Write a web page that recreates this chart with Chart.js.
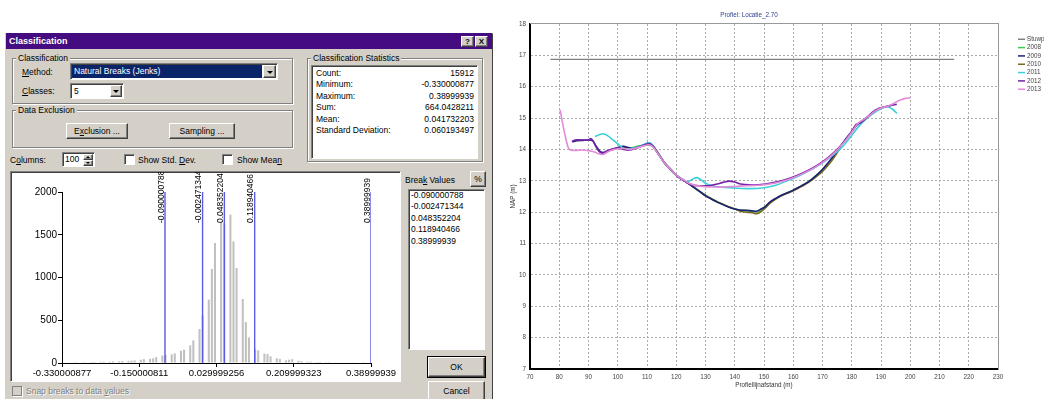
<!DOCTYPE html>
<html>
<head>
<meta charset="utf-8">
<title>Classification / Profiel</title>
<script src="https://cdn.jsdelivr.net/npm/chart.js@4.4.1/dist/chart.umd.min.js"></script>
<style>
  body { margin:0; width:1044px; height:399px; overflow:hidden; background:#fff; position:relative;
         font-family:"Liberation Sans", Arial, sans-serif; font-size:8.5px; color:#000; }
  .a { position:absolute; white-space:nowrap; box-sizing:border-box; }
  .grp { border:1px solid #808080; box-shadow: inset 1px 1px 0 #fff, 1px 1px 0 #fff; }
  .lab { background:#d4d0c8; padding:0 2px; line-height:10px; height:10px; }
  .btn { background:#d4d0c8; border:1px solid; border-color:#fff #404040 #404040 #fff;
         box-shadow: inset -1px -1px 0 #808080; text-align:center; }
  .sunk { background:#fff; border:1px solid; border-color:#808080 #fff #fff #808080;
          box-shadow: inset 1px 1px 0 #404040; }
  .tri { position:absolute; left:50%; top:50%; margin:-1px 0 0 -3px; width:0; height:0;
         border-left:3px solid transparent; border-right:3px solid transparent; border-top:3px solid #000; }
  .triup { position:absolute; left:50%; top:50%; margin:-1px 0 0 -2px; width:0; height:0;
         border-left:2px solid transparent; border-right:2px solid transparent; border-bottom:2px solid #000; }
  .tridn { position:absolute; left:50%; top:50%; margin:-1px 0 0 -2px; width:0; height:0;
         border-left:2px solid transparent; border-right:2px solid transparent; border-top:2px solid #000; }
</style>
</head>
<body>
<!-- dialog frame -->
<div class="a" style="left:5px;top:33px;width:488px;height:370px;background:#d4d0c8;border:1px solid;border-color:#d4d0c8 #404040 #404040 #d4d0c8;"></div>
<div class="a" style="left:6px;top:33px;width:486px;height:16px;background:#440c80;"></div>
<div class="a" style="left:9px;top:33px;height:16px;line-height:16px;color:#fff;font-weight:bold;font-size:9px;">Classification</div>
<div class="a btn" style="left:461px;top:36px;width:13px;height:11px;line-height:9px;font-weight:bold;font-size:8px;">?</div>
<div class="a btn" style="left:475px;top:36px;width:13px;height:11px;line-height:9px;font-weight:bold;font-size:8px;">X</div>

<!-- classification group -->
<div class="a grp" style="left:12px;top:58px;width:281px;height:46px;"></div>
<div class="a lab" style="left:16px;top:53px;">Classification</div>
<div class="a" style="left:22px;top:67px;line-height:10px;"><u>M</u>ethod:</div>
<div class="a sunk" style="left:70px;top:63px;width:208px;height:17px;"></div>
<div class="a" style="left:72px;top:65px;width:190px;height:13px;background:#0a246a;color:#fff;line-height:13px;padding-left:2px;">Natural Breaks (Jenks)</div>
<div class="a btn" style="left:263px;top:65px;width:13px;height:13px;"><span class="tri"></span></div>
<div class="a" style="left:22px;top:86px;line-height:10px;"><u>C</u>lasses:</div>
<div class="a sunk" style="left:70px;top:83px;width:54px;height:16px;"></div>
<div class="a" style="left:74px;top:85px;line-height:12px;">5</div>
<div class="a btn" style="left:110px;top:85px;width:12px;height:12px;"><span class="tri"></span></div>

<!-- data exclusion group -->
<div class="a grp" style="left:12px;top:110px;width:281px;height:38px;"></div>
<div class="a lab" style="left:16px;top:105px;">Data Exclusion</div>
<div class="a btn" style="left:66px;top:123px;width:62px;height:16px;line-height:14px;">E<u>x</u>clusion ...</div>
<div class="a btn" style="left:169px;top:123px;width:66px;height:16px;line-height:14px;">Samplin<u>g</u> ...</div>

<!-- columns row -->
<div class="a" style="left:10px;top:155px;line-height:10px;">C<u>o</u>lumns:</div>
<div class="a sunk" style="left:62px;top:152px;width:33px;height:15px;"></div>
<div class="a" style="left:65px;top:154px;line-height:11px;">100</div>
<div class="a btn" style="left:83px;top:154px;width:10px;height:6px;"><span class="triup"></span></div>
<div class="a btn" style="left:83px;top:160px;width:10px;height:6px;"><span class="tridn"></span></div>
<div class="a sunk" style="left:124px;top:154px;width:11px;height:11px;"></div>
<div class="a" style="left:138px;top:155px;line-height:10px;">Show Std. <u>D</u>ev.</div>
<div class="a sunk" style="left:222px;top:154px;width:11px;height:11px;"></div>
<div class="a" style="left:237px;top:155px;line-height:10px;">Show Mea<u>n</u></div>

<!-- statistics group -->
<div class="a grp" style="left:307px;top:58px;width:176px;height:104px;"></div>
<div class="a lab" style="left:311px;top:53px;">Classification Statistics</div>
<div class="a sunk" style="left:311px;top:65px;width:167px;height:94px;"></div>
<div id="statRows"></div>

<!-- histogram -->
<div class="a sunk" style="left:10px;top:171px;width:391px;height:211px;"></div>
<canvas id="histChart" class="a" width="388" height="209" style="left:12px;top:172px;"></canvas>

<!-- break values -->
<div class="a" style="left:405px;top:175px;line-height:10px;">Brea<u>k</u> Values</div>
<div class="a btn" style="left:470px;top:171px;width:16px;height:16px;line-height:14px;">%</div>
<div class="a sunk" style="left:408px;top:189px;width:77px;height:161px;"></div>
<div id="breakRows"></div>
<div class="a btn" style="left:428px;top:357px;width:57px;height:20px;line-height:18px;outline:1px solid #000;">OK</div>
<div class="a btn" style="left:428px;top:381px;width:57px;height:20px;line-height:18px;">Cancel</div>
<div class="a" style="left:12px;top:386px;width:10px;height:10px;border:1px solid #808080;box-shadow:1px 1px 0 #fff;"></div>
<div class="a" style="left:26px;top:386px;line-height:10px;color:#808080;text-shadow:1px 1px 0 #fff;">Snap breaks to data <u>v</u>alues</div>

<!-- profile chart -->
<canvas id="profileChart" class="a" width="544" height="399" style="left:500px;top:0;"></canvas>

<script>
// --- classification statistics ---
const statNames = ["Count:", "Minimum:", "Maximum:", "Sum:", "Mean:", "Standard Deviation:"];
const statValues = ["15912", "-0.330000877", "0.38999939", "664.0428211", "0.041732203", "0.060193497"];

// --- histogram (100 columns) ---
const statMin = -0.330000877;
const statMax = 0.38999939;
const histColumns = 100;
const histCounts = [
    0, 5, 0, 8, 10, 0, 8, 10, 0, 12,
    12, 0, 14, 15, 0, 15, 18, 0, 20, 22,
    0, 25, 28, 30, 0, 38, 45, 0, 48, 55,
    70, 0, 86, 94, 0, 101, 113, 0, 144, 156,
    0, 207, 265, 0, 398, 558, 0, 741, 1100, 1404,
    0, 1638, 1638, 0, 1735, 1423, 1111, 0, 749, 480,
    300, 0, 160, 148, 0, 109, 105, 78, 0, 55,
    47, 0, 31, 39, 45, 0, 27, 23, 0, 16,
    16, 0, 12, 12, 0, 10, 10, 0, 8, 6,
    0, 5, 5, 0, 3, 0, 0, 2, 0, 0
];
const histTickValues = [-0.330000877, -0.150000811, 0.029999256, 0.209999323, 0.38999939];
const histTickLabels = ["-0.330000877", "-0.150000811", "0.029999256", "0.209999323", "0.38999939"];
const histYTicks = [0, 500, 1000, 1500, 2000];
const breakValues = [-0.090000788, -0.002471344, 0.048352204, 0.118940466, 0.38999939];
const breakLabels = ["-0.090000788", "-0.002471344", "0.048352204", "0.118940466", "0.38999939"];

// --- profiel Locatie_2.70 ---
const stuwDist = [77, 215];
const stuwNap = [16.87, 16.87];

const dist2008 = [104, 108, 112, 116, 120, 124, 128, 132, 136, 140, 144, 148, 152, 156, 160, 164, 168, 172];
const nap2008 = [14.03, 14.12, 14.1, 13.57, 13.17, 12.93, 12.66, 12.43, 12.24, 12.1, 12.05, 12.02, 12.3, 12.54, 12.7, 12.9, 13.18, 13.56];

const dist2009 = [84.5, 86, 88, 90.5, 91.5, 92.5, 94, 95.5, 97, 99, 100.5, 102, 103.5, 105, 107, 109, 110.5, 112, 113, 114,
    115, 116, 117, 118, 119, 120, 121, 122, 123, 124, 126, 128, 130, 132, 134, 136, 138, 140, 142, 144,
    146, 147.5, 149, 150.5, 152, 154, 156, 158, 160, 162, 164, 166, 168, 170, 172, 174, 176, 178, 180, 182,
    184, 186, 188, 190, 192, 193.5];
const nap2009 = [14.24, 14.28, 14.29, 14.3, 14.27, 14.12, 13.93, 13.9, 13.96, 14.02, 14.08, 14.1, 14.06, 14.04, 14.08, 14.15, 14.2, 14.12, 13.98, 13.84,
    13.7, 13.57, 13.46, 13.37, 13.27, 13.17, 13.1, 13.04, 12.98, 12.92, 12.79, 12.66, 12.52, 12.42, 12.32, 12.24, 12.16, 12.1, 12.06, 12.06,
    12.04, 12.03, 12.1, 12.18, 12.32, 12.44, 12.54, 12.62, 12.7, 12.8, 12.9, 13.02, 13.18, 13.36, 13.58, 13.82, 14.08, 14.34, 14.57, 14.8,
    14.94, 15.08, 15.22, 15.32, 15.37, 15.4];

const dist2010 = [100, 102, 104, 106, 108, 110, 111.5, 113, 114, 115, 116, 117, 118, 119, 120, 121, 122, 123, 124, 126,
    128, 130, 132, 134, 136, 138, 140, 142, 144, 146, 147.5, 149, 150.5, 152, 154, 156, 158, 160, 162, 164,
    166, 168, 170, 172, 174, 176];
const nap2010 = [14.02, 14.06, 14.02, 14.04, 14.1, 14.16, 14.17, 14.0, 13.86, 13.72, 13.58, 13.47, 13.38, 13.28, 13.18, 13.11, 13.05, 12.99, 12.93, 12.8,
    12.66, 12.53, 12.43, 12.33, 12.25, 12.17, 12.1, 12.03, 12.0, 11.98, 11.95, 12.02, 12.14, 12.28, 12.42, 12.52, 12.6, 12.68, 12.78, 12.88,
    13.0, 13.14, 13.3, 13.5, 13.75, 14.04];

const dist2011 = [92.2, 93.5, 95, 96.5, 98, 99.5, 100.5, 102, 104, 106, 108, 110, 111, 112, 113, 114, 115, 116, 117, 118,
    119, 120, 121, 122, 123, 124, 125.5, 127, 128.5, 130, 132, 135, 140, 145, 150, 154, 158, 162, 166, 170,
    174, 177, 180, 183, 186, 189, 192, 194, 195.4];
const nap2011 = [14.41, 14.46, 14.5, 14.44, 14.33, 14.22, 14.14, 14.03, 14.02, 14.05, 14.12, 14.2, 14.21, 14.12, 13.98, 13.84, 13.7, 13.57, 13.46, 13.37,
    13.27, 13.18, 13.12, 13.06, 13.0, 12.97, 13.05, 13.1, 13.03, 12.92, 12.85, 12.8, 12.77, 12.75, 12.78, 12.86, 13.0, 13.16, 13.35, 13.57,
    13.85, 14.1, 14.45, 14.8, 15.05, 15.25, 15.36, 15.28, 15.15];

const dist2012 = [84.3, 85.5, 88, 90, 90.8, 91.5, 92.5, 93.5, 94.5, 96, 98, 100, 102, 104, 106, 108, 110, 111, 112, 113,
    114, 115, 116, 117, 118, 119, 120, 121, 122, 123, 124, 126, 128, 130, 132, 134, 136, 138, 140, 142,
    145, 148, 152, 156, 160, 164, 168, 172, 175, 178, 180, 181.5, 183, 185, 187, 189, 191, 193, 195.4];
const nap2012 = [14.25, 14.3, 14.3, 14.3, 14.35, 14.28, 14.1, 13.95, 13.88, 13.94, 14.01, 14.05, 14.0, 13.98, 14.03, 14.1, 14.17, 14.18, 14.1, 13.98,
    13.84, 13.7, 13.57, 13.46, 13.37, 13.27, 13.17, 13.1, 13.04, 12.98, 12.92, 12.86, 12.84, 12.84, 12.86, 12.9, 12.95, 12.99, 12.96, 12.9,
    12.87, 12.87, 12.92, 13.0, 13.12, 13.28, 13.48, 13.75, 14.0, 14.32, 14.58, 14.8, 14.85, 15.0, 15.18, 15.3, 15.35, 15.4, 15.44];

const dist2013 = [80.3, 81, 82, 83, 83.8, 86, 88, 90, 92, 93.5, 95, 96.5, 98, 100, 102, 104, 106, 108, 110, 111,
    112, 113, 114, 115, 116, 117, 118, 119, 120, 121, 122, 123, 124, 126, 128, 130, 133, 136, 140, 144,
    148, 152, 156, 160, 164, 168, 172, 175, 178, 180, 182, 184, 186, 188, 190, 192, 194, 196, 198, 200];
const nap2013 = [15.26, 14.9, 14.45, 14.08, 13.98, 13.97, 13.98, 13.96, 13.92, 13.86, 13.84, 13.92, 13.98, 14.02, 14.03, 14.0, 14.04, 14.09, 14.14, 14.14,
    14.08, 13.97, 13.84, 13.7, 13.57, 13.46, 13.37, 13.27, 13.18, 13.11, 13.05, 13.0, 12.94, 12.87, 12.83, 12.81, 12.8, 12.8, 12.82, 12.84,
    12.86, 12.9, 12.98, 13.1, 13.26, 13.46, 13.72, 13.98, 14.3, 14.55, 14.82, 14.95, 15.08, 15.22, 15.32, 15.37, 15.45, 15.55, 15.62, 15.65];

const FONT = '"Liberation Sans", Arial, sans-serif';

// tekstregels in de dialoog
(function () {
    const box = document.getElementById("statRows");
    statNames.forEach(function (name, i) {
        const top = 67.5 + i * 11.5;
        const l = document.createElement("div");
        l.className = "a";
        l.style.cssText = "left:316px;top:" + top + "px;line-height:11px;";
        l.textContent = name;
        box.appendChild(l);
        const v = document.createElement("div");
        v.className = "a";
        v.style.cssText = "left:394px;width:80px;text-align:right;top:" + top + "px;line-height:11px;";
        v.textContent = statValues[i];
        box.appendChild(v);
    });
    const br = document.getElementById("breakRows");
    breakLabels.forEach(function (txt, i) {
        const d = document.createElement("div");
        d.className = "a";
        d.style.cssText = "left:411px;top:" + (189.5 + i * 11.5) + "px;line-height:11px;";
        d.textContent = txt;
        br.appendChild(d);
    });
})();

// --- histogram ---
const binWidth = (statMax - statMin) / histColumns;
const histPoints = histCounts.map(function (c, i) {
    return { x: statMin + (i + 0.5) * binWidth, y: c };
});

const breakSets = breakValues.map(function (v) {
    return {
        type: "line",
        data: [{ x: v, y: 0 }, { x: v, y: 2000 }],
        borderColor: "#5a5ae6",
        borderWidth: 1.4,
        pointRadius: 0,
        order: 0
    };
});

const breakLabelPlugin = {
    id: "breakLabels",
    afterDatasetsDraw(chart) {
        const ctx = chart.ctx;
        const xs = chart.scales.x;
        ctx.save();
        ctx.font = "8.5px " + FONT;
        ctx.fillStyle = "#000";
        ctx.textAlign = "left";
        ctx.textBaseline = "alphabetic";
        breakValues.forEach(function (v, i) {
            ctx.save();
            ctx.translate(xs.getPixelForValue(v) - 1.5, chart.chartArea.top + 31);
            ctx.rotate(-Math.PI / 2);
            ctx.fillText(breakLabels[i], 0, 0);
            ctx.restore();
        });
        ctx.restore();
    }
};

new Chart(document.getElementById("histChart").getContext("2d"), {
    type: "bar",
    data: {
        datasets: [{
            data: histPoints,
            backgroundColor: "#c0c0c0",
            barPercentage: 0.66,
            categoryPercentage: 1,
            order: 1
        }].concat(breakSets)
    },
    options: {
        responsive: false,
        animation: false,
        events: [],
        layout: { padding: { left: 0, top: 20, right: 29, bottom: 0 } },
        plugins: { legend: { display: false }, tooltip: { enabled: false } },
        scales: {
            x: {
                type: "linear",
                min: statMin,
                max: statMax,
                offset: false,
                afterBuildTicks: function (s) { s.ticks = histTickValues.map(function (v) { return { value: v }; }); },
                afterFit: function (s) { s.height = 18; },
                ticks: {
                    autoSkip: false, maxRotation: 0, padding: 1, color: "#000",
                    font: { family: FONT, size: 9.5 },
                    callback: function (v, i) { return histTickLabels[i]; }
                },
                grid: { drawOnChartArea: false, tickLength: 4, color: "#000", offset: false },
                border: { color: "#000", width: 1 }
            },
            y: {
                min: 0,
                max: 2000,
                afterBuildTicks: function (s) { s.ticks = histYTicks.map(function (v) { return { value: v }; }); },
                afterFit: function (s) { s.width = 50; },
                ticks: {
                    padding: 1, color: "#000", font: { family: FONT, size: 10 },
                    callback: function (v) { return String(v); }
                },
                grid: { drawOnChartArea: false, tickLength: 4, color: "#000" },
                border: { color: "#000", width: 1 }
            }
        }
    },
    plugins: [breakLabelPlugin]
});

// --- profiel ---
function pts(d, n) {
    return d.map(function (x, i) { return { x: x, y: n[i] }; });
}

function lijn(label, d, n, color, order) {
    return {
        label: label,
        data: pts(d, n),
        borderColor: color,
        borderWidth: 1.6,
        pointRadius: 0,
        tension: 0.3,
        fill: false,
        order: order
    };
}

const profileLegend = {
    id: "profileLegend",
    afterDraw(chart) {
        const ctx = chart.ctx;
        const x0 = chart.chartArea.right + 20;
        ctx.save();
        ctx.font = "6.3px " + FONT;
        ctx.textBaseline = "middle";
        chart.data.datasets.forEach(function (ds, i) {
            const y = chart.chartArea.top + 15.3 + i * 8.33;
            ctx.strokeStyle = ds.borderColor;
            ctx.lineWidth = 1.5;
            ctx.beginPath();
            ctx.moveTo(x0, y);
            ctx.lineTo(x0 + 7, y);
            ctx.stroke();
            ctx.fillStyle = "#444";
            ctx.fillText(ds.label, x0 + 9, y);
        });
        ctx.restore();
    }
};

new Chart(document.getElementById("profileChart").getContext("2d"), {
    type: "line",
    data: {
        datasets: [
            { label: "Stuwpeil", data: pts(stuwDist, stuwNap), borderColor: "#808080", borderWidth: 1.2, pointRadius: 0, order: 7 },
            lijn("2008", dist2008, nap2008, "#33cc55", 6),
            lijn("2009", dist2009, nap2009, "#1f1f78", 4),
            lijn("2010", dist2010, nap2010, "#7a6a22", 5),
            lijn("2011", dist2011, nap2011, "#3ccfd8", 3),
            lijn("2012", dist2012, nap2012, "#7422a6", 2),
            lijn("2013", dist2013, nap2013, "#e38ad8", 1)
        ]
    },
    options: {
        responsive: false,
        animation: false,
        events: [],
        layout: { padding: { left: 0, right: 46, top: 0, bottom: 0 } },
        plugins: {
            legend: { display: false },
            tooltip: { enabled: false },
            title: {
                display: true,
                text: "Profiel: Locatie_2.70",
                color: "#2e3d8f",
                font: { family: FONT, size: 6.3, weight: "normal" },
                padding: { top: 11.2, bottom: 5.2 }
            }
        },
        scales: {
            x: {
                type: "linear",
                min: 70,
                max: 230,
                afterFit: function (s) { s.height = 30; },
                ticks: { stepSize: 10, padding: 4, color: "#444", font: { family: FONT, size: 6.3 } },
                grid: { color: "#aaaaaa", drawTicks: false },
                border: { color: "#000", width: 2, dash: [2, 2] },
                title: { display: true, text: "Profiellijnafstand (m)", color: "#333", font: { family: FONT, size: 6.3 }, padding: { top: 0, bottom: 10.2 } }
            },
            y: {
                min: 7,
                max: 18,
                afterFit: function (s) { s.width = 30; },
                ticks: { stepSize: 1, padding: 4, color: "#444", font: { family: FONT, size: 6.3 } },
                grid: { color: "#aaaaaa", drawTicks: false },
                border: { color: "#000", width: 2, dash: [2, 2] },
                title: { display: true, text: "NAP (m)", color: "#333", font: { family: FONT, size: 6.3 }, padding: { top: 9.2, bottom: 0 } }
            },
            x2: {
                type: "linear", position: "top", min: 70, max: 230,
                afterFit: function (s) { s.height = 0; },
                ticks: { display: false },
                grid: { display: false, drawTicks: false },
                border: { color: "#999", width: 1 }
            },
            y2: {
                type: "linear", position: "right", min: 7, max: 18,
                afterFit: function (s) { s.width = 0; },
                ticks: { display: false },
                grid: { display: false, drawTicks: false },
                border: { color: "#999", width: 1 }
            }
        }
    },
    plugins: [profileLegend]
});
</script>
</body>
</html>
